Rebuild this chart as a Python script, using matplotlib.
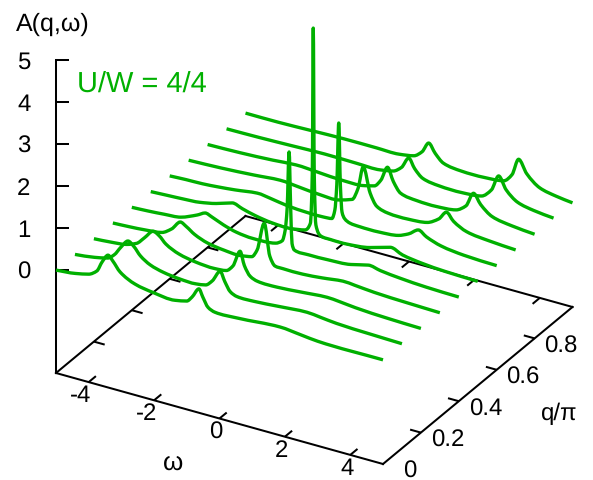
import matplotlib
matplotlib.use("Agg")
import matplotlib.pyplot as plt
from matplotlib.path import Path
from matplotlib.patches import PathPatch

plt.rcParams['font.family'] = ['Liberation Sans', 'DejaVu Sans']
plt.rcParams['text.hinting'] = 'none'
plt.rcParams['text.hinting_factor'] = 1

GREEN = '#00b000'
q_values = [0.0, 0.1, 0.2, 0.3, 0.4, 0.5, 0.6, 0.7, 0.8, 0.9, 1.0]

w00 = [-5,-4.4,-4,-3.75,-3.59,-3.41,-3.26,-3.04,-2.58,-2.03,-1.36,-1,-.84,-.63,-.51,-.35,-.14,.54,1.85,2.5,3,5]
a00 = [0,.05,.12,.25,.50,.70,.59,.38,.19,.11,.07,.13,.26,.5,.33,.12,.05,.06,.13,.08,.04,.03]
w01 = [-5,-4.4,-4,-3.8,-3.6,-3.38,-3.2,-3,-2.7,-2.3,-1.8,-1.3,-1,-.8,-.56,-.42,-.25,-.05,.5,1.2,2.1,2.5,3,4,5]
a01 = [0,.06,.13,.25,.47,.67,.58,.40,.25,.16,.11,.10,.14,.28,.56,.35,.14,.07,.07,.11,.16,.13,.09,.06,.04]
w02 = [-5,-4.5,-4,-3.7,-3.45,-3.19,-3,-2.8,-2.4,-1.9,-1.3,-.95,-.75,-.53,-.4,-.22,0,.6,1.3,2.13,2.5,3,4,5]
a02 = [0,.03,.08,.17,.36,.57,.50,.35,.20,.12,.09,.12,.27,.67,.36,.14,.07,.06,.10,.15,.13,.09,.05,.03]
w03 = [-5,-4.5,-4,-3.5,-3.2,-2.94,-2.75,-2.5,-2.1,-1.6,-1.1,-.75,-.59,-.37,-.2,-.04,.2,.8,1.4,2.04,2.4,3,4,5]
a03 = [0,.02,.05,.10,.25,.47,.40,.27,.15,.09,.07,.12,.31,1.0,.25,.05,.04,.04,.08,.14,.12,.08,.05,.03]
w04 = [-5,-4.5,-4,-3.5,-3,-2.76,-2.55,-2.2,-1.8,-1.3,-.6,-.4,-.31,-.25,-.19,-.14,-.1,-.03,.4,1,1.7,2.23,2.6,3.2,4,5]
a04 = [0,.02,.05,.09,.25,.35,.30,.19,.10,.06,.1,.2,.47,1.0,2.36,1.0,.2,.06,.04,.05,.09,.19,.14,.09,.05,.03]
w05 = [-5,-4.5,-4,-3.5,-3,-2.51,-2.2,-1.8,-1.3,-.7,-.28,-.12,-.06,-.03,0,.05,.2,.5,1,1.7,2.32,2.7,3.3,4,5]
a05 = [0,.02,.04,.07,.15,.27,.2,.12,.06,.05,.11,.3,1.5,4.97,1.5,.3,.07,.05,.05,.12,.26,.16,.09,.05,.03]
w06 = [-5,-4.5,-4,-3.5,-3,-2.32,-1.9,-1.4,-.8,-.3,-.04,.05,.11,.17,.22,.27,.35,.51,.8,1.4,2,2.3,2.6,2.85,3.3,4,5]
a06 = [0,.02,.03,.06,.1,.17,.13,.07,.04,.04,.06,.28,.9,2.38,.9,.28,.14,.07,.05,.05,.1,.2,.36,.25,.13,.06,.03]
w07 = [-5,-4,-3,-2.2,-1.6,-1,-.4,0,.18,.34,.55,.75,1.1,1.7,2.3,2.65,2.88,3.1,3.5,4.2,5]
a07 = [0,.03,.08,.13,.09,.05,.05,.15,.45,1.0,.42,.15,.06,.05,.1,.26,.47,.3,.14,.07,.03]
w08 = [-5,-4,-3,-2.3,-1.6,-.9,-.2,.1,.3,.5,.68,.9,1.4,2,2.6,2.9,3.13,3.35,3.7,4.3,5]
a08 = [0,.02,.06,.1,.07,.04,.06,.12,.3,.65,.35,.12,.05,.04,.09,.25,.6,.38,.17,.08,.03]
w09 = [-5,-4,-3,-2,-1,-.3,.1,.35,.57,.75,1,1.5,2.2,2.8,3.1,3.32,3.55,3.9,4.4,5]
a09 = [0,.01,.03,.05,.04,.04,.1,.24,.51,.3,.12,.05,.04,.09,.3,.68,.4,.18,.09,.04]
w10 = [-5,-4,-3,-2,-1,-.3,.15,.4,.6,.8,1.05,1.6,2.3,2.9,3.15,3.35,3.6,4,4.5,5]
a10 = [0,0,.02,.04,.04,.04,.1,.25,.5,.3,.12,.05,.05,.1,.3,.71,.42,.17,.08,.03]

omega_lists = [w00, w01, w02, w03, w04, w05, w06, w07, w08, w09, w10]
spectra = [a00, a01, a02, a03, a04, a05, a06, a07, a08, a09, a10]

omega_ticks = [-4, -2, 0, 2, 4]
q_ticks = [0.2, 0.4, 0.6, 0.8]
q_tick_labels = ['0', '0.2', '0.4', '0.6', '0.8']
q_label_ticks = [0.0, 0.2, 0.4, 0.6, 0.8]
z_ticks = [0, 1, 2, 3, 4, 5]

# Oblique (gnuplot-like) projection of (omega, q, A) onto the page
X0, Y0 = 56.0, 373.0
DX_W, DY_W = 32.7, 9.1
DX_Q, DY_Q = 189.5, -157.0
DY_A = -42.0
Z_BASE = -2.45

def proj(w, q, a=Z_BASE):
    return (X0 + DX_W * (w + 5) + DX_Q * q,
            Y0 + DY_W * (w + 5) + DY_Q * q + DY_A * (a - Z_BASE))

def smooth_path(xs, ys):
    """Monotone cubic Bezier through the knots; a line style, no extra knots."""
    n = len(xs)
    h = [xs[i + 1] - xs[i] for i in range(n - 1)]
    d = [(ys[i + 1] - ys[i]) / h[i] for i in range(n - 1)]
    m = [d[0]] + [0.0] * (n - 2) + [d[-1]]
    for i in range(1, n - 1):
        if d[i - 1] * d[i] > 0:
            w1 = 2 * h[i] + h[i - 1]
            w2 = h[i] + 2 * h[i - 1]
            m[i] = (w1 + w2) / (w1 / d[i - 1] + w2 / d[i])
    verts = [(xs[0], ys[0])]
    codes = [Path.MOVETO]
    for i in range(n - 1):
        verts += [(xs[i] + h[i] / 3, ys[i] + m[i] * h[i] / 3),
                  (xs[i + 1] - h[i] / 3, ys[i + 1] - m[i + 1] * h[i] / 3),
                  (xs[i + 1], ys[i + 1])]
        codes += [Path.CURVE4] * 3
    return Path(verts, codes)

fig = plt.figure(figsize=(5.93, 4.80), dpi=100)
ax = fig.add_axes([0, 0, 1, 1])
ax.set_xlim(0, 593)
ax.set_ylim(480, 0)
ax.axis('off')

AX = dict(color='black', lw=1.45, solid_capstyle='projecting', zorder=2)
TK = dict(color='black', lw=1.45, solid_capstyle='butt', zorder=2)
FS = 17.5

def seg(p0, p1, **kw):
    ax.plot([p0[0], p1[0]], [p0[1], p1[1]], **kw)

# base rectangle and vertical axis
seg(proj(-5, 0), proj(5, 0), **AX)
seg(proj(5, 0), proj(5, 1), **AX)
seg(proj(5, 1), proj(-5, 1), **AX)
seg(proj(-5, 1), proj(-5, 0), **AX)
seg(proj(-5, 0), proj(-5, 0, 5), **AX)

# tick marks
for w in omega_ticks:
    seg(proj(w, 0), proj(w, 0.038), **TK)
    seg(proj(w, 1), proj(w, 1 - 0.038), **TK)
for q in q_ticks:
    seg(proj(-5, q), proj(-5 + 0.33, q), **TK)
    seg(proj(5, q), proj(5 - 0.33, q), **TK)
for z in z_ticks:
    x, y = proj(-5, 0, z)
    ax.plot([x, x + 13], [y, y], **TK)
    ax.text(30.5, y, str(z), ha='right', va='center_baseline', fontsize=FS, color='black')

# tick labels
for w in omega_ticks:
    x, y = proj(w, 0)
    ax.text(x + 3, y + 11.5, str(w), ha='right', va='center_baseline', fontsize=FS, color='black')
for q, lab in zip(q_label_ticks, q_tick_labels):
    x, y = proj(5, q)
    ax.text(x + 26.5, y + 5.5, lab, ha='center', va='center_baseline', fontsize=FS, color='black')

# axis labels
ax.text(173, 460, 'ω', ha='center', va='center_baseline', fontsize=18.5, color='black')
ax.text(559, 411, 'q/π', ha='center', va='center_baseline', fontsize=FS, color='black')
ax.text(16, 22, 'A(q,ω)', ha='left', va='center_baseline', fontsize=18, color='black')
ax.text(77, 81, 'U/W = 4/4', ha='left', va='center_baseline', fontsize=21, color=GREEN)

# spectra
for q, ws, vals in zip(q_values, omega_lists, spectra):
    pts = [proj(w, q, a) for w, a in zip(ws, vals)]
    ax.add_patch(PathPatch(smooth_path([p[0] for p in pts], [p[1] for p in pts]),
                           fill=False, edgecolor=GREEN, lw=2.4, joinstyle='round',
                           capstyle='butt', zorder=3))

fig.savefig('out.png', dpi=100)
